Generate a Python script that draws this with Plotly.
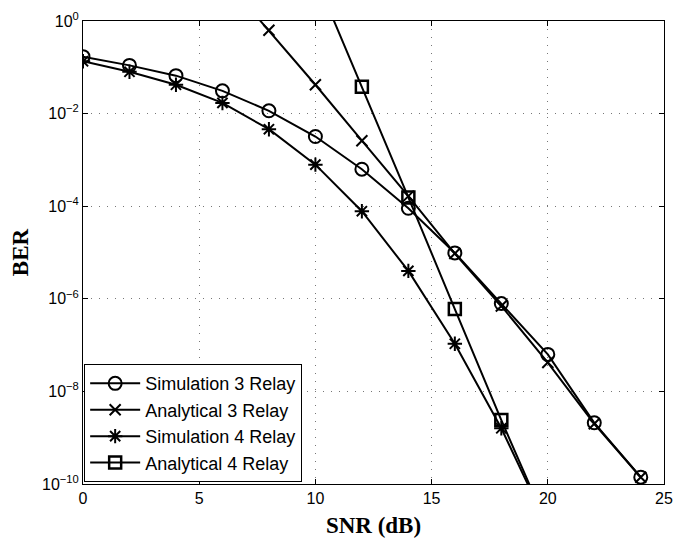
import plotly.graph_objects as go

snr_sim = [0, 2, 4, 6, 8, 10, 12, 14, 16, 18, 20, 22, 24]
sim3 = [0.17, 0.11, 0.066, 0.031, 0.0115, 0.0032, 6.3e-4, 9e-5, 9.8e-6, 7.9e-7, 6.3e-8, 2.1e-9, 1.4e-10]

snr_an3 = [6, 8, 10, 12, 14, 16, 18, 20, 22, 24]
an3 = [9.0, 0.63, 0.042, 0.0026, 1.65e-4, 9.5e-6, 7e-7, 4.2e-8, 2.0e-9, 1.4e-10]

snr_sim4 = [0, 2, 4, 6, 8, 10, 12, 14, 16, 18, 20]
sim4 = [0.135, 0.08, 0.042, 0.017, 0.0046, 7.9e-4, 7.8e-5, 4e-6, 1.07e-7, 1.6e-9, 1.2e-11]

snr_an4 = [10, 12, 14, 16, 18, 20]
an4 = [9.0, 0.038, 1.55e-4, 6e-7, 2.4e-9, 1.2e-11]

ytick_vals = [1e0, 1e-2, 1e-4, 1e-6, 1e-8, 1e-10]
ytick_text = ["10<sup>0</sup>", "10<sup>−2</sup>", "10<sup>−4</sup>", "10<sup>−6</sup>",
              "10<sup>−8</sup>", "10<sup>−10</sup>"]
xtick_vals = [0, 5, 10, 15, 20, 25]

fig = go.Figure()
line = dict(color="black", width=2)
fig.add_trace(go.Scatter(x=snr_sim, y=sim3, mode="lines+markers", name="Simulation 3 Relay",
                         line=line, marker=dict(symbol="circle-open", size=13, color="black",
                                                line=dict(width=2, color="black"))))
fig.add_trace(go.Scatter(x=snr_an3, y=an3, mode="lines+markers", name="Analytical 3 Relay",
                         line=line, marker=dict(symbol="x-thin-open", size=11, color="black",
                                                line=dict(width=2, color="black"))))
fig.add_trace(go.Scatter(x=snr_sim4, y=sim4, mode="lines+markers", name="Simulation 4 Relay",
                         line=line, marker=dict(symbol="asterisk-open", size=12, color="black",
                                                line=dict(width=2, color="black"))))
fig.add_trace(go.Scatter(x=snr_an4, y=an4, mode="lines+markers", name="Analytical 4 Relay",
                         line=line, marker=dict(symbol="square-open", size=12, color="black",
                                                line=dict(width=2.5, color="black"))))

fig.update_layout(
    width=683, height=546,
    margin=dict(l=83, r=10, t=19, b=62),
    paper_bgcolor="white", plot_bgcolor="white",
    font=dict(family="Liberation Sans, Arial", size=16, color="black"),
    showlegend=True,
    legend=dict(x=0.002, y=0.004, xanchor="left", yanchor="bottom",
                bgcolor="white", bordercolor="black", borderwidth=1,
                font=dict(family="Liberation Sans, Arial", size=18, color="black"),
                itemwidth=50, tracegroupgap=0),
)
fig.update_xaxes(
    range=[0, 25], tickvals=xtick_vals, ticks="inside", ticklen=5, tickcolor="black",
    showline=True, linecolor="black", linewidth=1, mirror="ticks",
    showgrid=True, gridcolor="#777", griddash="1px,7px", gridwidth=1, zeroline=False,
    title=dict(text="<b>SNR (dB)</b>", font=dict(family="Liberation Serif, Times New Roman", size=23),
               standoff=10),
    tickfont=dict(size=16),
)
fig.update_yaxes(
    type="log", range=[-10, 0], tickvals=ytick_vals, ticktext=ytick_text,
    ticks="inside", ticklen=5, tickcolor="black",
    showline=True, linecolor="black", linewidth=1, mirror="ticks",
    showgrid=True, gridcolor="#777", griddash="1px,7px", gridwidth=1, zeroline=False,
    title=dict(text="<b>BER</b>", font=dict(family="Liberation Serif, Times New Roman", size=23),
               standoff=6),
    tickfont=dict(size=16),
)
fig.write_html("out.html")
